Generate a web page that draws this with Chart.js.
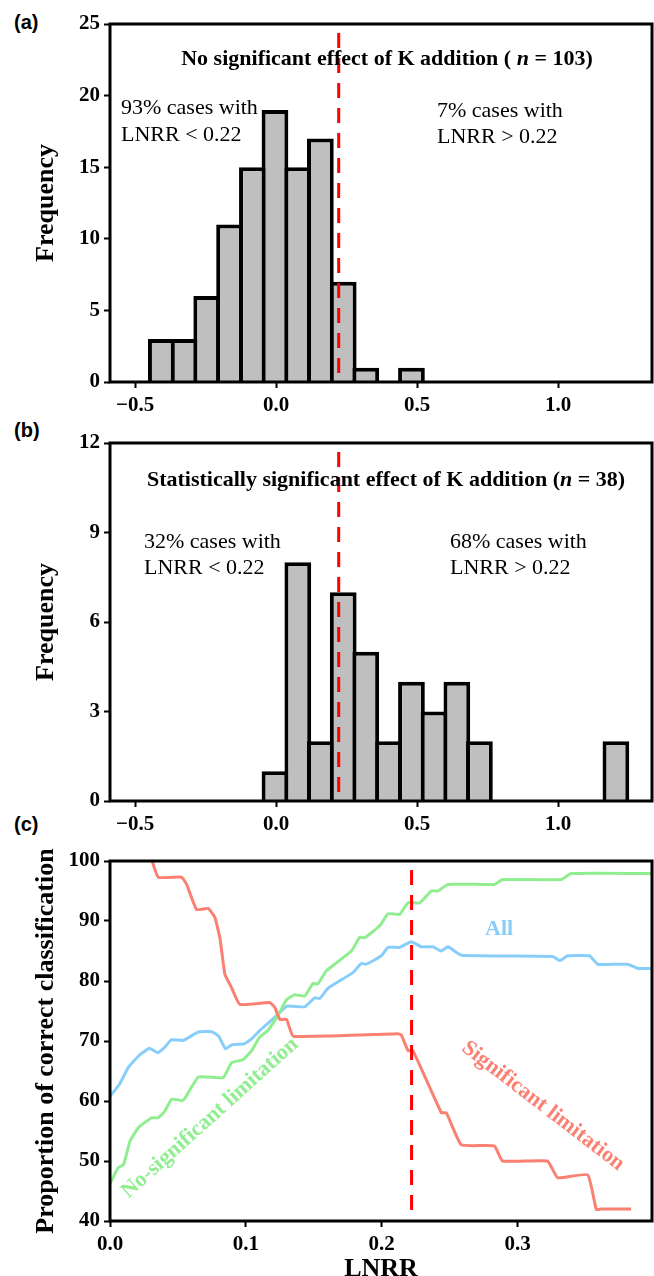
<!DOCTYPE html>
<html>
<head>
<meta charset="utf-8">
<script src="https://cdn.jsdelivr.net/npm/chart.js@4.4.0/dist/chart.umd.min.js"></script>
<style>
  body { margin: 0; background: #fff; width: 654px; height: 1276px; position: relative; overflow: hidden; }
  canvas { position: absolute; left: 0; }
  .tag { position: absolute; left: 14px; font: bold 20px "Liberation Sans", Arial, sans-serif; color: #000; }
</style>
</head>
<body>
<div class="tag" style="top:11px">(a)</div>
<div class="tag" style="top:419px">(b)</div>
<div class="tag" style="top:813px">(c)</div>
<canvas id="chartA" width="654" height="430" style="top:0"></canvas>
<canvas id="chartB" width="654" height="430" style="top:419px"></canvas>
<canvas id="chartC" width="654" height="439" style="top:837px"></canvas>
<script>
// ---- datos: histogramas (centros de clase, ancho ~0.08) ----
const binCentres = [-0.407, -0.326, -0.246, -0.165, -0.084, -0.004, 0.077, 0.157, 0.238, 0.318, 0.399,
                    0.480, 0.560, 0.641, 0.721, 0.802, 0.883, 0.963, 1.044, 1.124, 1.205];
const freqNoEffect  = [3, 3, 6, 11, 15, 19, 15, 17, 7, 1, 0, 1, 0, 0, 0, 0, 0, 0, 0, 0, 0];
const freqSigEffect = [0, 0, 0, 0, 0, 1, 8, 2, 7, 5, 2, 4, 3, 4, 2, 0, 0, 0, 0, 0, 2];
const histTicks = [-0.5, 0.0, 0.5, 1.0];
const threshold = 0.222;

// ---- datos: proporcion de clasificacion correcta ----
const classTicks = [0.0, 0.1, 0.2, 0.3];
const allX = [0.000, 0.007, 0.0135, 0.021, 0.029, 0.035, 0.040, 0.045, 0.054, 0.065, 0.075, 0.080, 0.085,
              0.090, 0.099, 0.104, 0.110, 0.116, 0.1225, 0.130, 0.1434, 0.1507, 0.1544, 0.1605, 0.1789,
              0.185, 0.1887, 0.1998, 0.2047, 0.2132, 0.2218, 0.2292, 0.2377, 0.2439, 0.2488, 0.2586,
              0.326, 0.331, 0.337, 0.353, 0.359, 0.381, 0.3885, 0.399];
const allY = [60.8, 62.8, 65.6, 67.5, 68.8, 68.05, 68.9, 70.2, 70.1, 71.5, 71.55, 70.8, 68.7,
              69.4, 69.55, 70.3, 71.7, 72.9, 74.2, 75.8, 75.7, 77.2, 77.1, 78.8, 81.4,
              82.9, 82.8, 84.2, 85.6, 85.6, 86.55, 85.7, 85.7, 85.0, 85.7, 84.3,
              84.1, 83.4, 84.2, 84.2, 82.8, 82.8, 82.1, 82.1];
const noSigX = [0.000, 0.006, 0.010, 0.0147, 0.021, 0.0306, 0.0355, 0.0404, 0.0453, 0.054, 0.065, 0.0833,
                0.0895, 0.098, 0.104, 0.110, 0.116, 0.124, 0.130, 0.136, 0.1434, 0.1495, 0.153, 0.1593,
                0.1777, 0.1838, 0.1875, 0.1985, 0.2047, 0.2132, 0.2194, 0.228, 0.2365, 0.2414, 0.2488,
                0.283, 0.289, 0.332, 0.3395, 0.399];
const noSigY = [46.2, 48.9, 49.4, 53.3, 55.6, 57.2, 57.2, 58.3, 60.3, 60.1, 64.0, 63.9,
                66.4, 66.9, 68.3, 70.6, 71.7, 74.4, 76.9, 77.7, 77.5, 79.6, 79.5, 81.7,
                85.0, 87.3, 87.2, 89.2, 91.2, 91.1, 93.05, 93.0, 95.0, 95.0, 96.1,
                96.1, 96.9, 96.9, 97.9, 97.9];
const sigX = [0.029, 0.0355, 0.0527, 0.0564, 0.0637, 0.0723, 0.0772, 0.0809, 0.0846, 0.0895, 0.0956,
              0.1176, 0.1213, 0.125, 0.130, 0.135, 0.212, 0.2145, 0.2194, 0.223, 0.2439, 0.2476,
              0.2586, 0.283, 0.289, 0.322, 0.3296, 0.3517, 0.358, 0.3615, 0.3836];
const sigY = [101.5, 97.3, 97.3, 96.1, 91.9, 92.1, 90.6, 87.2, 81.1, 78.9, 76.1,
              76.4, 75.6, 73.6, 73.6, 70.8, 71.2, 71.0, 68.4, 68.4, 58.05, 58.05,
              52.7, 52.5, 50.0, 50.0, 47.2, 47.7, 41.9, 42.0, 42.0];

const SERIF = '"Liberation Serif", "Times New Roman", serif';
const fB = s => 'bold ' + s + 'px ' + SERIF;
const fBI = s => 'italic bold ' + s + 'px ' + SERIF;
const fR = s => s + 'px ' + SERIF;

// textos por grafico (posiciones en pixeles del canvas)
const notas = {
  chartA: [
    { parts: [['No significant effect of K addition ( ', fB(22)], ['n', fBI(22)], [' = 103)', fB(22)]], x: 387, y: 59, align: 'center' },
    { parts: [['93% cases with', fR(22)]], x: 121, y: 108 },
    { parts: [['LNRR < 0.22', fR(22)]], x: 121, y: 135 },
    { parts: [['7% cases with', fR(22)]], x: 437, y: 111 },
    { parts: [['LNRR > 0.22', fR(22)]], x: 437, y: 137 }
  ],
  chartB: [
    { parts: [['Statistically significant effect of K addition (', fB(22)], ['n', fBI(22)], [' = 38)', fB(22)]], x: 386, y: 61, align: 'center' },
    { parts: [['32% cases with', fR(22)]], x: 144, y: 123 },
    { parts: [['LNRR < 0.22', fR(22)]], x: 144, y: 149 },
    { parts: [['68% cases with', fR(22)]], x: 450, y: 123 },
    { parts: [['LNRR > 0.22', fR(22)]], x: 450, y: 149 }
  ],
  chartC: [
    { parts: [['All', fB(22)]], x: 485, y: 92, color: '#87CEFA' },
    { parts: [['Significant limitation', fB(22)]], x: 543, y: 269, align: 'center', angle: 37.5, color: '#FA8072' },
    { parts: [['No-significant limitation', fB(22)]], x: 210, y: 281, align: 'center', angle: -41.9, color: '#90EE90' }
  ]
};

const marcoPlugin = {
  id: 'marco',
  afterDatasetsDraw(chart) {
    const { ctx, chartArea: a, scales } = chart;
    // linea de umbral discontinua
    const px = scales.x.getPixelForValue(threshold);
    ctx.save();
    ctx.strokeStyle = '#ff0000';
    ctx.lineWidth = 3;
    ctx.setLineDash([15, 10]);
    ctx.beginPath();
    ctx.moveTo(px, a.top + 9);
    ctx.lineTo(px, a.bottom);
    ctx.stroke();
    ctx.restore();
    // marco negro
    ctx.save();
    ctx.strokeStyle = '#000';
    ctx.lineWidth = 3;
    ctx.strokeRect(a.left, a.top, a.right - a.left, a.bottom - a.top);
    ctx.restore();
  }
};

const notasPlugin = {
  id: 'notas',
  afterDraw(chart) {
    const ctx = chart.ctx;
    (notas[chart.canvas.id] || []).forEach(it => {
      ctx.save();
      ctx.translate(it.x, it.y);
      if (it.angle) ctx.rotate(it.angle * Math.PI / 180);
      ctx.fillStyle = it.color || '#000';
      ctx.textBaseline = 'middle';
      let total = 0;
      it.parts.forEach(p => { ctx.font = p[1]; total += ctx.measureText(p[0]).width; });
      let x = it.align === 'center' ? -total / 2 : 0;
      it.parts.forEach(p => { ctx.font = p[1]; ctx.fillText(p[0], x, 0); x += ctx.measureText(p[0]).width; });
      ctx.restore();
    });
  }
};

function fmtTick(v) {
  return Number(v).toFixed(1).replace('-', '\u2212');
}

function ejeComun(extra) {
  return Object.assign({
    border: { display: false },
    grid: { display: true, drawOnChartArea: false, drawTicks: true, tickLength: 6, tickWidth: 2, tickColor: '#000', offset: false },
    ticks: { color: '#000', font: { family: SERIF, size: 21, weight: 'bold' }, padding: 4, maxRotation: 0 }
  }, extra);
}

function histograma(id, counts, yMax, yStep) {
  return new Chart(document.getElementById(id), {
    type: 'bar',
    data: {
      datasets: [{
        data: binCentres.map((c, i) => ({ x: c, y: counts[i] })),
        backgroundColor: '#bfbfbf',
        borderColor: '#000',
        borderWidth: 4,
        borderSkipped: 'bottom',
        barPercentage: 1.185,
        categoryPercentage: 1
      }]
    },
    options: {
      responsive: false, animation: false, devicePixelRatio: 1, events: [],
      layout: { padding: { top: 24, right: 2, left: 0, bottom: 0 } },
      plugins: { legend: { display: false }, tooltip: { enabled: false } },
      scales: {
        x: ejeComun({
          type: 'linear', min: -0.589, max: 1.333, offset: false,
          afterBuildTicks: s => { s.ticks = histTicks.map(v => ({ value: v })); },
          afterFit: s => { s.height = 48; },
          ticks: { color: '#000', font: { family: SERIF, size: 21, weight: 'bold' }, padding: 5, maxRotation: 0, callback: fmtTick }
        }),
        y: ejeComun({
          min: 0, max: yMax,
          afterFit: s => { s.width = 110; },
          ticks: { color: '#000', font: { family: SERIF, size: 21, weight: 'bold' }, padding: 4, stepSize: yStep },
          title: { display: true, text: 'Frequency', color: '#000', font: { family: SERIF, size: 26, weight: 'bold' }, padding: { top: 31, bottom: 0 } }
        })
      }
    },
    plugins: [marcoPlugin, notasPlugin]
  });
}

histograma('chartA', freqNoEffect, 25, 5);
histograma('chartB', freqSigEffect, 12, 3);

const serie = (xs, ys) => xs.map((x, i) => ({ x: x, y: ys[i] }));
const estiloLinea = { pointRadius: 0, borderWidth: 3, tension: 0.12, fill: false };

new Chart(document.getElementById('chartC'), {
  type: 'line',
  data: {
    datasets: [
      Object.assign({ label: 'Significant limitation', data: serie(sigX, sigY), borderColor: '#FA8072' }, estiloLinea),
      Object.assign({ label: 'No-significant limitation', data: serie(noSigX, noSigY), borderColor: '#90EE90' }, estiloLinea),
      Object.assign({ label: 'All', data: serie(allX, allY), borderColor: '#87CEFA' }, estiloLinea)
    ]
  },
  options: {
    responsive: false, animation: false, devicePixelRatio: 1, events: [],
    layout: { padding: { top: 24, right: 2, left: 0, bottom: 0 } },
    plugins: { legend: { display: false }, tooltip: { enabled: false } },
    scales: {
      x: ejeComun({
        type: 'linear', min: 0, max: 0.399,
        afterBuildTicks: s => { s.ticks = classTicks.map(v => ({ value: v })); },
        afterFit: s => { s.height = 55; },
        ticks: { color: '#000', font: { family: SERIF, size: 21, weight: 'bold' }, padding: 5, maxRotation: 0, callback: fmtTick },
        title: { display: true, text: 'LNRR', color: '#000', font: { family: SERIF, size: 26, weight: 'bold', lineHeight: 0.5 }, padding: { top: 0, bottom: 0 } }
      }),
      y: ejeComun({
        min: 40, max: 100,
        afterFit: s => { s.width = 110; },
        ticks: { color: '#000', font: { family: SERIF, size: 21, weight: 'bold' }, padding: 4, stepSize: 10 },
        title: { display: true, text: 'Proportion of correct classification', color: '#000', font: { family: SERIF, size: 26, weight: 'bold' }, padding: { top: 31, bottom: 0 } }
      })
    }
  },
  plugins: [marcoPlugin, notasPlugin]
});
</script>
</body>
</html>
